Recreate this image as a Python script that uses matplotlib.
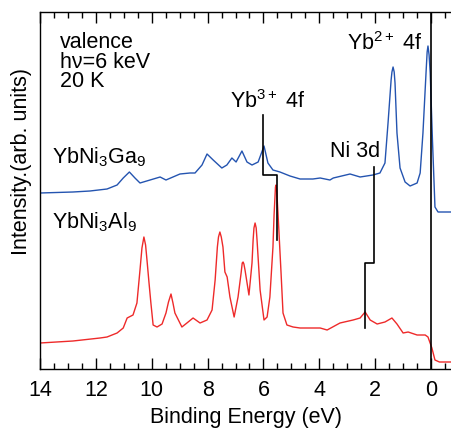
import numpy as np
import matplotlib
matplotlib.use("Agg")
import matplotlib.pyplot as plt
from matplotlib.ticker import MultipleLocator

# --- data (binding energy in eV, intensity in arb. units) ---
ga_energy = [14.0, 12.82, 12.21, 11.6, 11.24, 11.02, 10.80, 10.6, 10.42, 10.06,
             9.70, 9.49, 9.24, 8.99, 8.63, 8.45, 8.2, 8.02, 7.8, 7.49,
             7.31, 7.13, 6.98, 6.77, 6.59, 6.41, 6.19, 5.98, 5.84, 5.66,
             5.41, 5.05, 4.69, 4.23, 3.97, 3.62, 3.5, 2.9, 2.54, 2.08,
             1.83, 1.65, 1.54, 1.43, 1.40, 1.36, 1.32, 1.29, 1.22, 1.11,
             0.93, 0.75, 0.50, 0.39, 0.29, 0.18, 0.14, 0.11, 0.07, 0.03,
             -0.05, -0.14, -0.25, -0.75]
ga_intensity = [176, 177, 178, 180, 184, 191, 197, 191, 186, 189,
                192, 189, 192, 195, 196, 196, 204, 215, 209, 201,
                204, 211, 207, 218, 207, 204, 207, 223, 206, 199,
                197, 193, 190, 190, 191, 189, 191, 195, 192, 194,
                196, 206, 246, 289, 297, 302, 297, 286, 236, 201,
                187, 183, 186, 196, 236, 296, 317, 323, 314, 296,
                229, 162, 157, 157]

al_energy = [14.0, 12.82, 11.85, 11.6, 11.24, 11.02, 10.88, 10.67, 10.53, 10.42,
             10.35, 10.28, 10.22, 10.17, 10.1, 10.03, 9.95, 9.81, 9.63, 9.49,
             9.40, 9.31, 9.24, 9.17, 8.92, 8.74, 8.52, 8.27, 8.02, 7.84,
             7.73, 7.65, 7.61, 7.56, 7.51, 7.45, 7.38, 7.3, 7.2, 7.05,
             6.91, 6.8, 6.76, 6.73, 6.70, 6.66, 6.52, 6.41, 6.37, 6.34,
             6.3, 6.26, 6.23, 6.12, 5.98, 5.87, 5.77, 5.66, 5.62, 5.57,
             5.55, 5.52, 5.48, 5.37, 5.3, 5.16, 4.94, 4.69, 3.97, 3.72,
             3.26, 2.79, 2.54, 2.36, 2.18, 1.93, 1.65, 1.40, 1.22, 1.0,
             0.82, 0.5, 0.21, 0.11, -0.03, -0.14, -0.3, -0.75]
al_intensity = [26, 28, 31, 32, 36, 41, 51, 54, 66, 99,
                121, 132, 124, 109, 87, 66, 44, 42, 45, 56,
                67, 75, 66, 56, 42, 46, 51, 46, 49, 59,
                89, 122, 132, 137, 132, 122, 97, 92, 72, 52,
                72, 96, 106, 107, 105, 99, 74, 106, 129, 141,
                146, 141, 129, 79, 49, 52, 72, 122, 154, 182,
                184, 176, 156, 96, 56, 44, 42, 41, 41, 39,
                46, 49, 51, 57, 49, 45, 47, 51, 45, 36,
                37, 34, 34, 32, 21, 9, 7, 7]

# level markers (energy, intensity) for the step lines
yb3_marker_e = [6.0, 6.0, 5.5, 5.5]
yb3_marker_i = [254, 194, 194, 129]
ni3d_marker_e = [2.05, 2.05, 2.35, 2.35]
ni3d_marker_i = [202, 106, 106, 41]
yb2_energy = 0.0

xticks = [14, 12, 10, 8, 6, 4, 2, 0]

plt.rcParams['font.family'] = ['Liberation Sans', 'DejaVu Sans']
plt.rcParams['mathtext.fontset'] = 'custom'
plt.rcParams['mathtext.rm'] = 'Liberation Sans'
plt.rcParams['mathtext.it'] = 'Liberation Sans:italic'
plt.rcParams['mathtext.bf'] = 'Liberation Sans:bold'

fs = 15.5

fig = plt.figure(figsize=(4.52, 4.33), dpi=100)
ax = fig.add_axes([40 / 452, 64 / 433, 412 / 452, 357 / 433])

ax.plot(ga_energy, ga_intensity, color='#2454b0', lw=1.0)
ax.plot(al_energy, al_intensity, color='#ee2a2a', lw=1.0)

ax.plot(yb3_marker_e, yb3_marker_i, color='black', lw=1.2)
ax.plot(ni3d_marker_e, ni3d_marker_i, color='black', lw=1.2)
ax.axvline(yb2_energy, color='black', lw=1.2)

ax.set_xlim(14, -0.75)
ax.set_ylim(0, 357)

ax.text(13.28, 337, 'valence\nh\u03bd=6 keV\n20 K', fontsize=fs, va='top',
        ha='left', linespacing=0.92)
ax.text(3.0, 319, 'Yb$^{2+}$ 4f', fontsize=fs, va='baseline')
ax.text(7.2, 261, 'Yb$^{3+}$ 4f', fontsize=fs, va='baseline')
ax.text(3.62, 212, 'Ni 3d', fontsize=fs, va='baseline')
ax.text(13.57, 206, 'YbNi$_3$Ga$_9$', fontsize=fs, va='baseline')
ax.text(13.57, 141, 'YbNi$_3$Al$_9$', fontsize=fs, va='baseline')

ax.xaxis.set_major_locator(MultipleLocator(2))
ax.xaxis.set_minor_locator(MultipleLocator(0.5))
ax.set_xticks(xticks)
ax.tick_params(axis='x', which='both', direction='in', top=True, bottom=True,
               labelsize=fs, pad=8)
ax.tick_params(axis='x', which='major', length=8, width=1)
ax.tick_params(axis='x', which='minor', length=4, width=1)
ax.set_yticks([])
ax.spines['right'].set_visible(False)
for s in ['left', 'top', 'bottom']:
    ax.spines[s].set_linewidth(1.0)

ax.set_xlabel('Binding Energy (eV)', fontsize=fs, labelpad=4)
ax.set_ylabel('Intensity.(arb. units)', fontsize=fs, va='center')
ax.yaxis.set_label_coords(-0.045, 0.58)

fig.savefig('out.png', dpi=100)
